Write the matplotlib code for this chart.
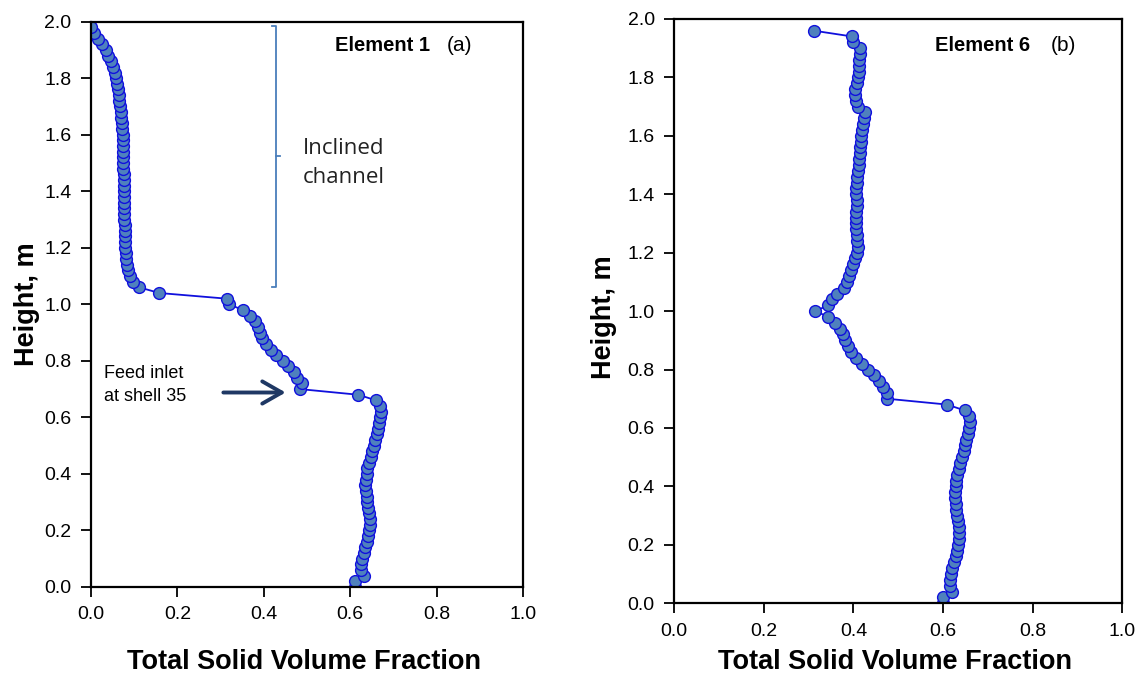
import numpy as np
import matplotlib.pyplot as plt
from matplotlib.patches import FancyArrowPatch

plt.rcParams['font.family'] = ['Liberation Sans', 'DejaVu Sans']

# shell heights (m), 0.02 m apart
h_a = np.round(np.arange(100) * 0.02, 2)
h_b = np.round(np.arange(99) * 0.02, 2)

# Element 1, from bottom (0.00 m) to top (1.98 m)
frac_a = [0.610, 0.612, 0.631, 0.625, 0.625, 0.628, 0.631, 0.635, 0.638, 0.641,
          0.643, 0.645, 0.645, 0.644, 0.642, 0.640, 0.638, 0.636, 0.635, 0.636,
          0.638, 0.640, 0.643, 0.647, 0.651, 0.655, 0.658, 0.661, 0.664, 0.667,
          0.670, 0.672, 0.670, 0.660, 0.619, 0.484, 0.488, 0.478, 0.470, 0.456,
          0.444, 0.429, 0.416, 0.405, 0.396, 0.392, 0.386, 0.380, 0.368, 0.351,
          0.320, 0.314, 0.158, 0.112, 0.098, 0.090, 0.086, 0.083, 0.081, 0.080,
          0.079, 0.078, 0.078, 0.078, 0.078, 0.077, 0.077, 0.077, 0.077, 0.077,
          0.076, 0.076, 0.076, 0.076, 0.075, 0.075, 0.075, 0.075, 0.074, 0.074,
          0.073, 0.072, 0.071, 0.070, 0.069, 0.068, 0.066, 0.064, 0.062, 0.060,
          0.058, 0.055, 0.051, 0.046, 0.040, 0.034, 0.026, 0.016, 0.006, 0.000]

# Element 6, from bottom (0.00 m) to top (1.96 m)
frac_b = [0.600, 0.601, 0.621, 0.615, 0.615, 0.617, 0.620, 0.625, 0.629, 0.632,
          0.634, 0.635, 0.635, 0.635, 0.633, 0.631, 0.629, 0.628, 0.627, 0.627,
          0.628, 0.629, 0.631, 0.635, 0.638, 0.642, 0.646, 0.649, 0.652, 0.655,
          0.658, 0.661, 0.658, 0.648, 0.609, 0.475, 0.476, 0.467, 0.458, 0.446,
          0.432, 0.419, 0.406, 0.394, 0.387, 0.382, 0.377, 0.369, 0.359, 0.344,
          0.315, 0.344, 0.352, 0.363, 0.380, 0.386, 0.390, 0.395, 0.400, 0.404,
          0.408, 0.411, 0.409, 0.407, 0.406, 0.406, 0.406, 0.406, 0.407, 0.408,
          0.406, 0.406, 0.408, 0.409, 0.410, 0.412, 0.413, 0.414, 0.415, 0.416,
          0.418, 0.419, 0.421, 0.423, 0.426, 0.411, 0.406, 0.404, 0.404, 0.408,
          0.411, 0.413, 0.413, 0.413, 0.415, 0.415, 0.400, 0.397, 0.311]

fig = plt.figure(figsize=(11.37, 6.77), dpi=100)
ax1 = fig.add_axes([0.080, 0.133, 0.380, 0.835])
ax2 = fig.add_axes([0.593, 0.109, 0.394, 0.863])

for ax, h, f in [(ax1, h_a, frac_a), (ax2, h_b, frac_b)]:
    ax.plot(f, h, '-o', color='#1010DD', lw=1.3, ms=8.5,
            mfc='#4F81BD', mec='#1010DD', mew=1.0)
    ax.set_xlim(0, 1)
    ax.set_ylim(0, 2)
    ax.set_xticks(np.arange(0, 1.01, 0.2))
    ax.set_yticks(np.arange(0, 2.01, 0.2))
    ax.xaxis.set_major_formatter(plt.FormatStrFormatter('%.1f'))
    ax.yaxis.set_major_formatter(plt.FormatStrFormatter('%.1f'))
    ax.tick_params(direction='out', length=7, width=1.3, labelsize=14, pad=7)
    for s in ax.spines.values():
        s.set_linewidth(1.6)
    ax.set_ylabel('Height, m', fontsize=19.5, fontweight='bold')
    ax.set_xlabel('Total Solid Volume Fraction', fontsize=19.5, fontweight='bold')
    ax.xaxis.label.set_va('baseline')
    ax.yaxis.label.set_va('center')

ax1.xaxis.set_label_coords(0.493, -0.145)
ax2.xaxis.set_label_coords(0.493, -0.112)
ax1.yaxis.set_label_coords(-0.147, 0.5)
ax2.yaxis.set_label_coords(-0.157, 0.49)

ax1.text(0.565, 0.975, 'Element 1', transform=ax1.transAxes, fontsize=14.5,
         fontweight='bold', va='top')
ax1.text(0.824, 0.975, '(a)', transform=ax1.transAxes, fontsize=15, va='top')
ax2.text(0.583, 0.97, 'Element 6', transform=ax2.transAxes, fontsize=14.5,
         fontweight='bold', va='top')
ax2.text(0.84, 0.97, '(b)', transform=ax2.transAxes, fontsize=15, va='top')

# bracket for the inclined channel
bc = '#4A7EBB'
ax1.plot([0.418, 0.428, 0.428, 0.418], [1.985, 1.985, 1.062, 1.062], color=bc, lw=1.3)
ax1.plot([0.428, 0.437], [1.526, 1.526], color=bc, lw=1.3)
ax1.text(0.49, 1.50, 'Inclined\nchannel', fontsize=16, family=['Open Sans', 'DejaVu Sans'],
         va='center', ha='left', linespacing=1.45, color='#222222')

# feed inlet arrow
ax1.text(0.03, 0.715, 'Feed inlet\nat shell 35', fontsize=13, va='center', ha='left',
         linespacing=1.45)
arr = FancyArrowPatch((0.30, 0.688), (0.457, 0.688), arrowstyle='->,head_length=14,head_width=8',
                      color='#1F3864', lw=2.8, mutation_scale=1)
ax1.add_patch(arr)

fig.savefig('out.png', dpi=100)
